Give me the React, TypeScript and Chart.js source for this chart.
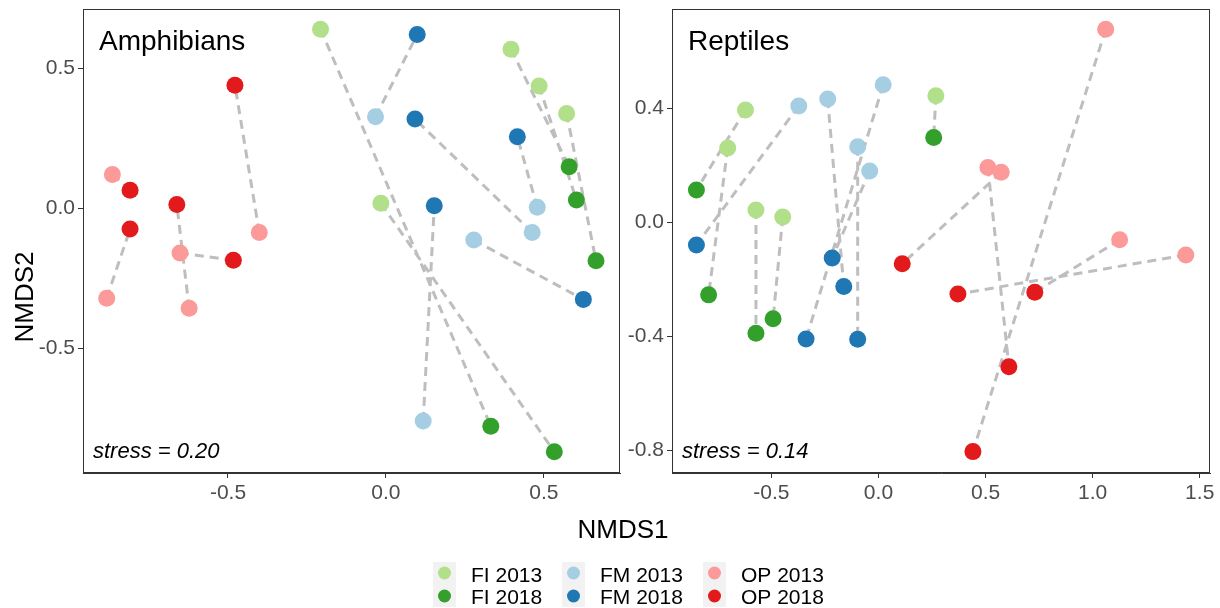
import React, { useEffect, useRef } from "react";
import { Chart, registerables } from "chart.js";

Chart.register(...registerables);

const FONT = "'Liberation Sans', Arial, Helvetica, sans-serif";

// Legend groups (2013 / 2018 pairs by habitat)
const groupNames = ["FI 2013", "FI 2018", "FM 2013", "FM 2018", "OP 2013", "OP 2018"];
const groupColors = ["#B2DF8A", "#33A02C", "#A6CEE3", "#1F78B4", "#FB9A99", "#E31A1C"];

// Amphibians: [NMDS1, NMDS2]; index i of a 2013 array is paired with index i of the 2018 array
const amphFI2013: [number, number][] = [[-0.207, 0.640], [-0.016, 0.018], [0.396, 0.568], [0.485, 0.437], [0.572, 0.339]];
const amphFI2018: [number, number][] = [[0.332, -0.778], [0.533, -0.869], [0.580, 0.149], [0.603, 0.030], [0.665, -0.187]];
const amphFM2013: [number, number][] = [[-0.033, 0.327], [0.463, -0.086], [0.479, 0.004], [0.118, -0.759], [0.278, -0.113]];
const amphFM2018: [number, number][] = [[0.099, 0.621], [0.092, 0.319], [0.416, 0.256], [0.153, 0.009], [0.625, -0.325]];
const amphOP2013: [number, number][] = [[-0.866, 0.121], [-0.884, -0.321], [-0.623, -0.357], [-0.652, -0.159], [-0.401, -0.086]];
const amphOP2018: [number, number][] = [[-0.810, 0.065], [-0.810, -0.074], [-0.662, 0.014], [-0.483, -0.185], [-0.478, 0.440]];

// Reptiles
const reptFI2013: [number, number][] = [[-0.621, 0.394], [-0.704, 0.260], [-0.572, 0.043], [-0.447, 0.018], [0.268, 0.444]];
const reptFI2018: [number, number][] = [[-0.850, 0.113], [-0.793, -0.255], [-0.572, -0.390], [-0.492, -0.339], [0.258, 0.297]];
const reptFM2013: [number, number][] = [[-0.372, 0.408], [-0.237, 0.432], [0.022, 0.482], [-0.097, 0.265], [-0.041, 0.180]];
const reptFM2018: [number, number][] = [[-0.850, -0.080], [-0.162, -0.226], [-0.338, -0.410], [-0.097, -0.411], [-0.216, -0.126]];
const reptOP2013: [number, number][] = [[0.511, 0.192], [0.573, 0.175], [1.061, 0.677], [1.126, -0.062], [1.435, -0.115]];
const reptOP2018: [number, number][] = [[0.609, -0.507], [0.111, -0.146], [0.441, -0.805], [0.730, -0.246], [0.371, -0.252]];

// Axis ticks and ranges
const amphXTicks = [-0.5, 0, 0.5];
const amphYTicks = [-0.5, 0, 0.5];
const reptXTicks = [-0.5, 0, 0.5, 1, 1.5];
const reptYTicks = [-0.8, -0.4, 0, 0.4];
const amphXRange = [-0.959, 0.741];
const amphYRange = [-0.945, 0.712];
const reptXRange = [-0.964, 1.548];
const reptYRange = [-0.88, 0.748];

// Text
const amphTitle = "Amphibians";
const reptTitle = "Reptiles";
const amphStress = "stress = 0.20";
const reptStress = "stress = 0.14";
const xAxisTitle = "NMDS1";
const yAxisTitle = "NMDS2";

type Panel = {
  groups: [number, number][][];
  xTicks: number[];
  yTicks: number[];
  xRange: number[];
  yRange: number[];
  title: string;
  stress: string;
  padding: { left: number; right: number; top: number; bottom: number };
  yWidth: number;
  global: boolean;
};

const decorPlugin = {
  id: "decor",
  afterDraw(chart: any, _args: any, opts: any) {
    const { ctx, chartArea: a } = chart;
    ctx.save();
    // panel border
    ctx.strokeStyle = "#333333";
    ctx.lineWidth = 1;
    ctx.strokeRect(a.left + 0.5, a.top + 0.5, a.right - a.left - 1, a.bottom - a.top - 1);
    // panel label
    ctx.fillStyle = "#000000";
    ctx.textBaseline = "alphabetic";
    ctx.textAlign = "left";
    ctx.font = `28px ${FONT}`;
    ctx.fillText(opts.title, a.left + 16, a.top + 41);
    ctx.font = `italic 22px ${FONT}`;
    ctx.fillText(opts.stress, a.left + 10, a.bottom - 15);

    if (opts.global) {
      // shared axis titles
      ctx.font = `26px ${FONT}`;
      ctx.textAlign = "center";
      ctx.fillText(xAxisTitle, 623, 538);
      ctx.save();
      ctx.translate(33, 297);
      ctx.rotate(-Math.PI / 2);
      ctx.fillText(yAxisTitle, 0, 0);
      ctx.restore();

      // legend (3 columns x 2 rows)
      const keyX = [433, 562, 703];
      ctx.textAlign = "left";
      ctx.font = `21px ${FONT}`;
      for (let c = 0; c < 3; c++) {
        ctx.fillStyle = "#F2F2F2";
        ctx.fillRect(keyX[c], 562, 23, 45);
        for (let r = 0; r < 2; r++) {
          const k = c * 2 + r;
          ctx.fillStyle = groupColors[k];
          ctx.beginPath();
          ctx.arc(keyX[c] + 11.5, 573 + r * 23, 6.5, 0, Math.PI * 2);
          ctx.fill();
          ctx.fillStyle = "#000000";
          ctx.fillText(groupNames[k], keyX[c] + 38, 582 + r * 22);
        }
      }
    }
    ctx.restore();
  },
};

function buildConfig(p: Panel): any {
  const links: any[] = [];
  for (let g = 0; g < p.groups.length; g += 2) {
    p.groups[g].forEach((a, i) => {
      const b = p.groups[g + 1][i];
      links.push({ x: a[0], y: a[1] }, { x: b[0], y: b[1] }, { x: null, y: null });
    });
  }
  const datasets: any[] = [
    {
      type: "line",
      label: "links",
      data: links,
      borderColor: "#BEBEBE",
      borderWidth: 3,
      borderDash: [9, 6],
      pointRadius: 0,
      pointHoverRadius: 0,
      fill: false,
      tension: 0,
      spanGaps: false,
      order: 10,
    },
    ...p.groups.map((pts, k) => ({
      type: "scatter",
      label: groupNames[k],
      data: pts.map(([x, y]) => ({ x, y })),
      backgroundColor: groupColors[k],
      borderColor: groupColors[k],
      borderWidth: 0,
      pointRadius: 8.5,
      pointHoverRadius: 8.5,
      order: 6 - k,
    })),
  ];
  const tickFont = { size: 21, family: FONT };
  const axisCommon = {
    type: "linear",
    grid: { display: true, drawOnChartArea: false, drawTicks: true, tickLength: 5, color: "#333333" },
    border: { display: true, color: "#333333", width: 1 },
  };
  return {
    type: "scatter",
    data: { datasets },
    options: {
      responsive: false,
      animation: false,
      devicePixelRatio: 1,
      events: [],
      layout: { padding: p.padding },
      plugins: {
        legend: { display: false },
        tooltip: { enabled: false },
        decor: { title: p.title, stress: p.stress, global: p.global },
      },
      scales: {
        x: {
          ...axisCommon,
          min: p.xRange[0],
          max: p.xRange[1],
          afterFit: (s: any) => {
            s.height = 40;
            s.paddingLeft = 0;
            s.paddingRight = 0;
          },
          afterBuildTicks: (s: any) => {
            s.ticks = p.xTicks.map((v) => ({ value: v }));
          },
          ticks: {
            callback: (v: any) => Number(v).toFixed(1),
            font: tickFont,
            color: "#4D4D4D",
            padding: 3,
            maxRotation: 0,
            autoSkip: false,
          },
        },
        y: {
          ...axisCommon,
          min: p.yRange[0],
          max: p.yRange[1],
          afterFit: (s: any) => {
            s.width = p.yWidth;
            s.paddingTop = 0;
            s.paddingBottom = 0;
          },
          afterBuildTicks: (s: any) => {
            s.ticks = p.yTicks.map((v) => ({ value: v }));
          },
          ticks: {
            callback: (v: any) => Number(v).toFixed(1),
            font: tickFont,
            color: "#4D4D4D",
            padding: 3,
            autoSkip: false,
          },
        },
      },
    },
    plugins: [decorPlugin],
  };
}

export default function App() {
  const leftRef = useRef<HTMLCanvasElement>(null);
  const rightRef = useRef<HTMLCanvasElement>(null);

  useEffect(() => {
    const c1 = new Chart(
      leftRef.current as HTMLCanvasElement,
      buildConfig({
        groups: [amphFI2013, amphFI2018, amphFM2013, amphFM2018, amphOP2013, amphOP2018],
        xTicks: amphXTicks,
        yTicks: amphYTicks,
        xRange: amphXRange,
        yRange: amphYRange,
        title: amphTitle,
        stress: amphStress,
        padding: { left: 0, right: 600, top: 9, bottom: 95 },
        yWidth: 83,
        global: true,
      })
    );
    const c2 = new Chart(
      rightRef.current as HTMLCanvasElement,
      buildConfig({
        groups: [reptFI2013, reptFI2018, reptFM2013, reptFM2018, reptOP2013, reptOP2018],
        xTicks: reptXTicks,
        yTicks: reptYTicks,
        xRange: reptXRange,
        yRange: reptYRange,
        title: reptTitle,
        stress: reptStress,
        padding: { left: 612, right: 10, top: 9, bottom: 95 },
        yWidth: 60,
        global: false,
      })
    );
    return () => {
      c1.destroy();
      c2.destroy();
    };
  }, []);

  return (
    <div style={{ position: "absolute", left: 0, top: 0, width: 1220, height: 608, background: "#ffffff" }}>
      <canvas ref={leftRef} width={1220} height={608} style={{ position: "absolute", left: 0, top: 0 }} />
      <canvas ref={rightRef} width={1220} height={608} style={{ position: "absolute", left: 0, top: 0 }} />
    </div>
  );
}
